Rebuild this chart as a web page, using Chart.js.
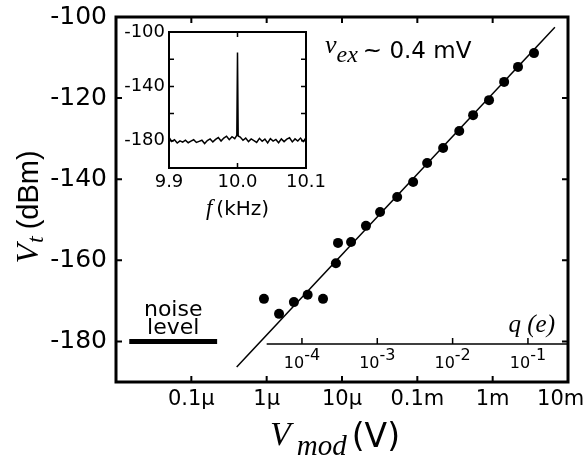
<!DOCTYPE html>
<html>
<head>
<meta charset="utf-8">
<script src="https://cdn.jsdelivr.net/npm/chart.js@4.4.1/dist/chart.umd.min.js"></script>
<style>
  body { margin: 0; background: #fff; }
  #wrap { position: relative; width: 585px; height: 460px; }
  #mainChart { position: absolute; left: 0; top: 0; }
  #insetChart { position: absolute; left: 110px; top: 24px; }
</style>
</head>
<body>
<div id="wrap">
  <canvas id="mainChart" width="585" height="460"></canvas>
  <canvas id="insetChart" width="240" height="205"></canvas>
</div>
<script>
// main plot: measured points (V_mod in volts, V_t in dBm)
const vmodValues = [9.2e-7, 1.46e-6, 2.3e-6, 3.5e-6, 5.6e-6, 8.3e-6, 8.85e-6, 1.32e-5, 2.08e-5,
  3.2e-5, 5.4e-5, 8.8e-5, 1.35e-4, 2.2e-4, 3.6e-4, 5.5e-4, 8.95e-4, 1.42e-3, 2.17e-3, 3.54e-3];
const vtValues = [-169.5, -173.2, -170.3, -168.5, -169.5, -160.7, -155.7, -155.5, -151.5,
  -148.1, -144.4, -140.7, -136.0, -132.3, -128.1, -124.2, -120.5, -116.0, -112.3, -108.9];

// fitted line end points
const fitX = [4.0e-7, 6.7e-3];
const fitY = [-186.3, -102.5];

// noise level bar
const noiseX = [1.5e-8, 2.2e-7];
const noiseY = [-180, -180];

// axis ticks (last label padded so it stays inside the page like the original)
const xTickValues = [1e-7, 1e-6, 1e-5, 1e-4, 1e-3, 1e-2];
const xTickLabels = ['0.1\u00b5', '1\u00b5', '10\u00b5', '0.1m', '1m', '10m\u2002\u2009'];
const yTickValues = [-180, -160, -140, -120, -100];

// secondary charge axis q (e)
const qTickValues = [1e-4, 1e-3, 1e-2, 1e-1];
const qTickExp = ['-4', '-3', '-2', '-1'];
const voltsPerE = 0.0294;
const qLineStart = 1e-6;
const qAxisLevel = -180.6;

// inset spectrum
const insetFreq = [9.900, 9.904, 9.908, 9.912, 9.916, 9.920, 9.924, 9.928, 9.932, 9.936,
  9.940, 9.944, 9.948, 9.952, 9.956, 9.960, 9.964, 9.968, 9.972, 9.976, 9.980, 9.984,
  9.988, 9.992, 9.996, 9.999, 10.000, 10.001, 10.004, 10.008, 10.012, 10.016, 10.020,
  10.024, 10.028, 10.032, 10.036, 10.040, 10.044, 10.048, 10.052, 10.056, 10.060, 10.064,
  10.068, 10.072, 10.076, 10.080, 10.084, 10.088, 10.092, 10.096, 10.100];
const insetDbm = [-177.5, -180.5, -179.2, -181.6, -180.0, -181.0, -179.6, -181.4, -180.2, -179.2,
  -181.2, -180.4, -179.6, -182.0, -179.8, -178.6, -180.8, -179.0, -177.6, -180.2, -178.0, -176.6,
  -179.2, -177.0, -178.4, -176.0, -115.0, -176.5, -177.2, -179.6, -178.0, -180.6, -178.6,
  -179.8, -181.2, -178.2, -180.4, -178.8, -181.6, -178.4, -180.2, -179.0, -181.4, -178.6,
  -180.6, -178.8, -177.8, -180.8, -178.6, -180.2, -178.0, -180.6, -177.8];
const insetXTicks = [9.9, 10.0, 10.1];
const insetYTicks = [-200, -180, -160, -140, -120, -100];
const insetYLabels = [-180, -140, -100];

const SANS = "'DejaVu Sans', sans-serif";
const ARIAL = "'Liberation Sans', Arial, sans-serif";
const SERIF = "'Liberation Serif', 'Times New Roman', serif";

const toPoints = (xs, ys) => xs.map((x, i) => ({ x, y: ys[i] }));

// draws a run of text pieces with their own fonts and baseline shifts
const drawRich = (ctx, x, y, parts, align = 'left') => {
  let total = 0;
  parts.forEach((p) => {
    ctx.font = p.font;
    total += ctx.measureText(p.text).width + (p.gap || 0);
  });
  let cx = align === 'center' ? x - total / 2 : align === 'right' ? x - total : x;
  parts.forEach((p) => {
    ctx.font = p.font;
    ctx.fillText(p.text, cx, y + (p.dy || 0));
    cx += ctx.measureText(p.text).width + (p.gap || 0);
  });
};

// box around the plot area and inward tick marks on all four sides
const frameTicks = {
  id: 'frameTicks',
  afterDatasetsDraw(chart, args, opts) {
    const { ctx, chartArea: a, scales } = chart;
    ctx.save();
    ctx.strokeStyle = '#000';
    ctx.lineWidth = opts.tickWidth;
    ctx.beginPath();
    scales.x.ticks.forEach((t) => {
      const px = scales.x.getPixelForValue(t.value);
      ctx.moveTo(px, a.bottom);
      ctx.lineTo(px, a.bottom - opts.tickLen);
      ctx.moveTo(px, a.top);
      ctx.lineTo(px, a.top + opts.tickLen);
    });
    scales.y.ticks.forEach((t) => {
      const py = scales.y.getPixelForValue(t.value);
      ctx.moveTo(a.left, py);
      ctx.lineTo(a.left + opts.tickLen, py);
      ctx.moveTo(a.right, py);
      ctx.lineTo(a.right - opts.tickLen, py);
    });
    ctx.stroke();
    ctx.lineWidth = opts.frameWidth;
    ctx.strokeRect(a.left, a.top, a.right - a.left, a.bottom - a.top);
    ctx.restore();
  },
};

// titles, labels and the q (e) axis of the main plot
const mainExtras = {
  id: 'mainExtras',
  afterDraw(chart) {
    const { ctx, chartArea: a, scales } = chart;
    const x = scales.x;
    const y = scales.y;
    ctx.save();
    ctx.fillStyle = '#000';
    ctx.strokeStyle = '#000';
    ctx.textBaseline = 'alphabetic';
    ctx.textAlign = 'left';

    // y title
    ctx.save();
    ctx.translate(38, 207);
    ctx.rotate(-Math.PI / 2);
    drawRich(ctx, 0, 0, [
      { text: 'V', font: 'italic 32px ' + SERIF, gap: 1 },
      { text: 't', font: 'italic 24px ' + SERIF, dy: 5, gap: 7 },
      { text: '(dBm)', font: '29px ' + ARIAL },
    ], 'center');
    ctx.restore();

    // x title
    drawRich(ctx, 270, 445, [
      { text: 'V', font: 'italic 34px ' + SERIF, gap: 6 },
      { text: 'mod', font: 'italic 29px ' + SERIF, dy: 10, gap: 5 },
      { text: '(V)', font: '33px ' + SANS, dy: 2 },
    ]);

    // noise level label
    const nx = (x.getPixelForValue(noiseX[0]) + x.getPixelForValue(noiseX[1])) / 2;
    const ny = y.getPixelForValue(noiseY[0]);
    ctx.font = '22px ' + SANS;
    ctx.textAlign = 'center';
    ctx.fillText('noise', nx, ny - 25);
    ctx.fillText('level', nx, ny - 7);
    ctx.textAlign = 'left';

    // excitation note
    drawRich(ctx, 325, 53, [
      { text: 'v', font: 'italic 26px ' + SERIF },
      { text: 'ex', font: 'italic 24px ' + SERIF, dy: 9, gap: 5 },
      { text: '~ 0.4 mV', font: '23px ' + SANS, dy: 5 },
    ]);

    // q (e) axis
    const qy = y.getPixelForValue(qAxisLevel);
    ctx.lineWidth = 1.5;
    ctx.beginPath();
    ctx.moveTo(x.getPixelForValue(qLineStart), qy);
    ctx.lineTo(a.right, qy);
    qTickValues.forEach((q) => {
      const px = x.getPixelForValue(q * voltsPerE);
      ctx.moveTo(px, qy);
      ctx.lineTo(px, qy - 6);
    });
    ctx.stroke();
    qTickValues.forEach((q, i) => {
      const px = x.getPixelForValue(q * voltsPerE);
      drawRich(ctx, px, qy + 24, [
        { text: '10', font: '16px ' + SANS },
        { text: qTickExp[i], font: '16px ' + SANS, dy: -8 },
      ], 'center');
    });
    drawRich(ctx, a.right - 13, qy - 12, [
      { text: 'q (e)', font: 'italic 25px ' + SERIF },
    ], 'right');
    ctx.restore();
  },
};

const insetExtras = {
  id: 'insetExtras',
  afterDraw(chart) {
    const { ctx, chartArea: a } = chart;
    ctx.save();
    ctx.fillStyle = '#000';
    ctx.textBaseline = 'alphabetic';
    drawRich(ctx, (a.left + a.right) / 2, a.bottom + 47, [
      { text: 'f', font: 'italic 23px ' + SERIF, gap: 4 },
      { text: '(kHz)', font: '20px ' + SANS },
    ], 'center');
    ctx.restore();
  },
};

new Chart(document.getElementById('mainChart'), {
  type: 'line',
  data: {
    datasets: [
      {
        type: 'scatter',
        data: toPoints(vmodValues, vtValues),
        pointRadius: 5,
        pointBackgroundColor: '#000',
        pointBorderWidth: 0,
      },
      {
        data: toPoints(fitX, fitY),
        borderColor: '#000',
        borderWidth: 1.5,
        pointRadius: 0,
      },
      {
        data: toPoints(noiseX, noiseY),
        borderColor: '#000',
        borderWidth: 5,
        borderCapStyle: 'butt',
        pointRadius: 0,
      },
    ],
  },
  options: {
    responsive: false,
    animation: false,
    devicePixelRatio: 1,
    layout: { padding: { left: 0, top: 17, right: 17, bottom: 0 } },
    plugins: {
      legend: { display: false },
      tooltip: { enabled: false },
      frameTicks: { frameWidth: 3, tickWidth: 2, tickLen: 6 },
    },
    scales: {
      x: {
        type: 'logarithmic',
        min: 1e-8,
        max: 1e-2,
        grid: { display: false, drawTicks: false },
        border: { display: false },
        afterBuildTicks: (s) => {
          s.ticks = xTickValues.map((v) => ({ value: v }));
        },
        afterFit: (s) => {
          s.height = 78;
          s.paddingLeft = 0;
          s.paddingRight = 0;
        },
        ticks: {
          color: '#000',
          font: { family: SANS, size: 21 },
          padding: 5,
          maxRotation: 0,
          autoSkip: false,
          callback: (v) => {
            const i = xTickValues.indexOf(v);
            return i >= 0 ? xTickLabels[i] : '';
          },
        },
      },
      y: {
        min: -190,
        max: -100,
        grid: { display: false, drawTicks: false },
        border: { display: false },
        afterBuildTicks: (s) => {
          s.ticks = yTickValues.map((v) => ({ value: v }));
        },
        afterFit: (s) => {
          s.width = 116;
          s.paddingTop = 0;
          s.paddingBottom = 0;
        },
        ticks: {
          color: '#000',
          font: { family: SANS, size: 25 },
          padding: 9,
        },
      },
    },
  },
  plugins: [frameTicks, mainExtras],
});

new Chart(document.getElementById('insetChart'), {
  type: 'line',
  data: {
    datasets: [
      {
        data: toPoints(insetFreq, insetDbm),
        borderColor: '#000',
        borderWidth: 1.5,
        pointRadius: 0,
      },
    ],
  },
  options: {
    responsive: false,
    animation: false,
    devicePixelRatio: 1,
    layout: { padding: { left: 0, top: 8, right: 44, bottom: 0 } },
    plugins: {
      legend: { display: false },
      tooltip: { enabled: false },
      frameTicks: { frameWidth: 2, tickWidth: 1.5, tickLen: 5 },
    },
    scales: {
      x: {
        type: 'linear',
        min: 9.9,
        max: 10.1,
        grid: { display: false, drawTicks: false },
        border: { display: false },
        afterBuildTicks: (s) => {
          s.ticks = insetXTicks.map((v) => ({ value: v }));
        },
        afterFit: (s) => {
          s.height = 61;
          s.paddingLeft = 0;
          s.paddingRight = 0;
        },
        ticks: {
          color: '#000',
          font: { family: SANS, size: 18 },
          padding: 4,
          maxRotation: 0,
          autoSkip: false,
          callback: (v) => v.toFixed(1),
        },
      },
      y: {
        min: -200,
        max: -100,
        grid: { display: false, drawTicks: false },
        border: { display: false },
        afterBuildTicks: (s) => {
          s.ticks = insetYTicks.map((v) => ({ value: v }));
        },
        afterFit: (s) => {
          s.width = 59;
          s.paddingTop = 0;
          s.paddingBottom = 0;
        },
        ticks: {
          color: '#000',
          font: { family: SANS, size: 18 },
          padding: 4,
          autoSkip: false,
          callback: (v) => (insetYLabels.includes(v) ? String(v) : ''),
        },
      },
    },
  },
  plugins: [frameTicks, insetExtras],
});
</script>
</body>
</html>
